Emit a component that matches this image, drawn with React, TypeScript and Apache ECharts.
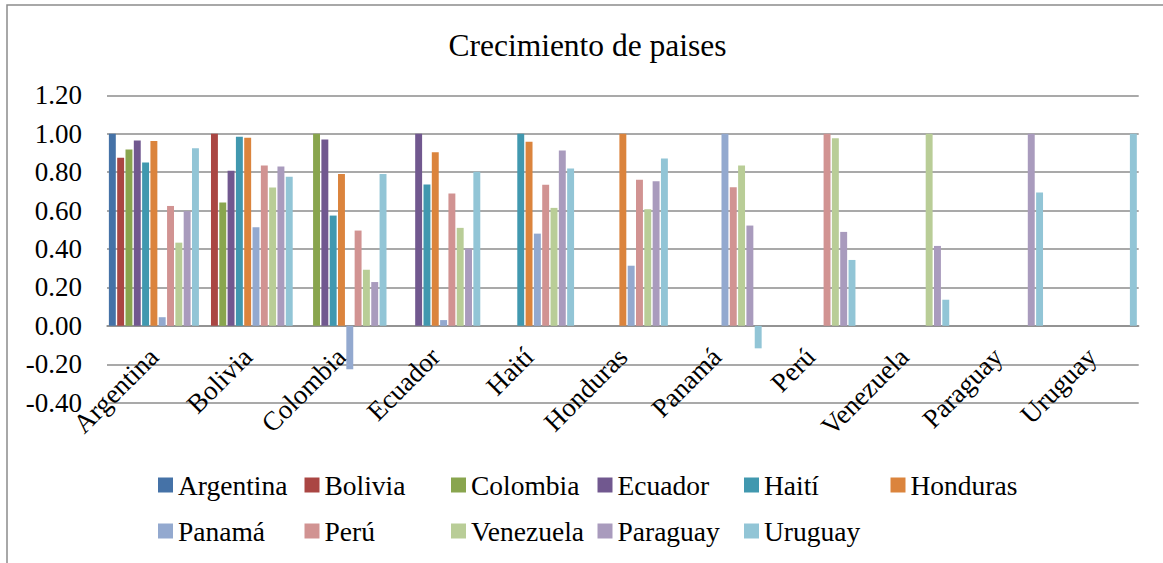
import React, { useEffect, useRef } from "react";
import * as echarts from "echarts";

const categories = ["Argentina", "Bolivia", "Colombia", "Ecuador", "Haití", "Honduras", "Panamá", "Perú", "Venezuela", "Paraguay", "Uruguay"];

const argentina = [1.0, null, null, null, null, null, null, null, null, null, null];
const bolivia = [0.875, 1.0, null, null, null, null, null, null, null, null, null];
const colombia = [0.918, 0.642, 1.0, null, null, null, null, null, null, null, null];
const ecuador = [0.965, 0.807, 0.97, 1.0, null, null, null, null, null, null, null];
const haiti = [0.85, 0.984, 0.574, 0.736, 1.0, null, null, null, null, null, null];
const honduras = [0.962, 0.979, 0.79, 0.904, 0.958, 1.0, null, null, null, null, null];
const panama = [0.045, 0.513, -0.226, 0.03, 0.48, 0.313, 1.0, null, null, null, null];
const peru = [0.624, 0.835, 0.496, 0.689, 0.734, 0.76, 0.722, 1.0, null, null, null];
const venezuela = [0.433, 0.72, 0.292, 0.51, 0.614, 0.607, 0.835, 0.976, 1.0, null, null];
const paraguay = [0.597, 0.83, 0.228, 0.402, 0.913, 0.753, 0.522, 0.489, 0.416, 1.0, null];
const uruguay = [0.925, 0.776, 0.79, 0.802, 0.819, 0.871, -0.117, 0.343, 0.136, 0.694, 1.0];

const seriesValues = [argentina, bolivia, colombia, ecuador, haiti, honduras, panama, peru, venezuela, paraguay, uruguay];
const colors = ["#4572A7", "#AA4643", "#89A54E", "#71588F", "#4198AF", "#DB843D", "#93A9CF", "#D19392", "#B9CD97", "#A99BBD", "#92C5D6"];

const yMin = -0.4;
const yMax = 1.2;
const yInterval = 0.2;
const title = "Crecimiento de paises";

const FONT = "Liberation Serif";

export default function App() {
  const ref = useRef<HTMLDivElement>(null);
  useEffect(() => {
    if (!ref.current) return;
    const chart = echarts.init(ref.current, null, { renderer: "svg" });
    const gridTop = 95.3;
    const gridBottom = 160.3;
    const plotH = 563 - gridTop - gridBottom;
    const zeroOffset = -plotH * (0 - yMin) / (yMax - yMin);
    const legendText = { fontFamily: FONT, fontSize: 27.5, color: "#000", width: 118, lineHeight: 30 };
    chart.setOption({
      animation: false,
      color: colors,
      graphic: [
        {
          type: "rect",
          shape: { x: 7, y: 5, width: 1200, height: 600 },
          style: { fill: "none", stroke: "#8c8c8c", lineWidth: 1.5 },
          silent: true,
        },
        {
          type: "text",
          x: 587.5,
          y: 45,
          style: { text: title, fontFamily: FONT, fontSize: 31.5, fill: "#000", textAlign: "center", textVerticalAlign: "middle" },
        },
      ],
      legend: [
        {
          data: categories.slice(0, 6),
          left: 158,
          top: 470,
          padding: 0,
          orient: "horizontal",
          icon: "rect",
          itemWidth: 15,
          itemHeight: 15,
          itemGap: 8.5,
          textStyle: legendText,
        },
        {
          data: categories.slice(6),
          left: 158,
          top: 516,
          padding: 0,
          orient: "horizontal",
          icon: "rect",
          itemWidth: 15,
          itemHeight: 15,
          itemGap: 8.5,
          textStyle: legendText,
        },
      ],
      grid: { left: 107, right: 24.3, top: gridTop, bottom: gridBottom, containLabel: false },
      xAxis: {
        type: "category",
        data: categories,
        offset: zeroOffset,
        axisTick: { show: false },
        axisLine: { onZero: false, lineStyle: { color: "#8c8c8c", width: 1.5 } },
        axisLabel: { interval: 0, rotate: 45, margin: 26.5, fontFamily: FONT, fontSize: 27, color: "#000" },
        splitLine: { show: false },
      },
      yAxis: {
        type: "value",
        min: yMin,
        max: yMax,
        interval: yInterval,
        axisLine: { show: false },
        axisTick: { show: false },
        axisLabel: {
          margin: 25,
          fontFamily: FONT,
          fontSize: 27,
          color: "#000",
          formatter: (v: number) => v.toFixed(2),
        },
        splitLine: { lineStyle: { color: "#8c8c8c", width: 1.5 } },
      },
      series: categories.map((name, i) => ({
        name,
        type: "bar",
        data: seriesValues[i],
        barGap: "20%",
        barCategoryGap: "4%",
        itemStyle: { color: colors[i] },
      })),
    });
    return () => chart.dispose();
  }, []);
  return <div ref={ref} style={{ position: "fixed", left: 0, top: 0, width: 1163, height: 563, background: "#fff" }} />;
}
